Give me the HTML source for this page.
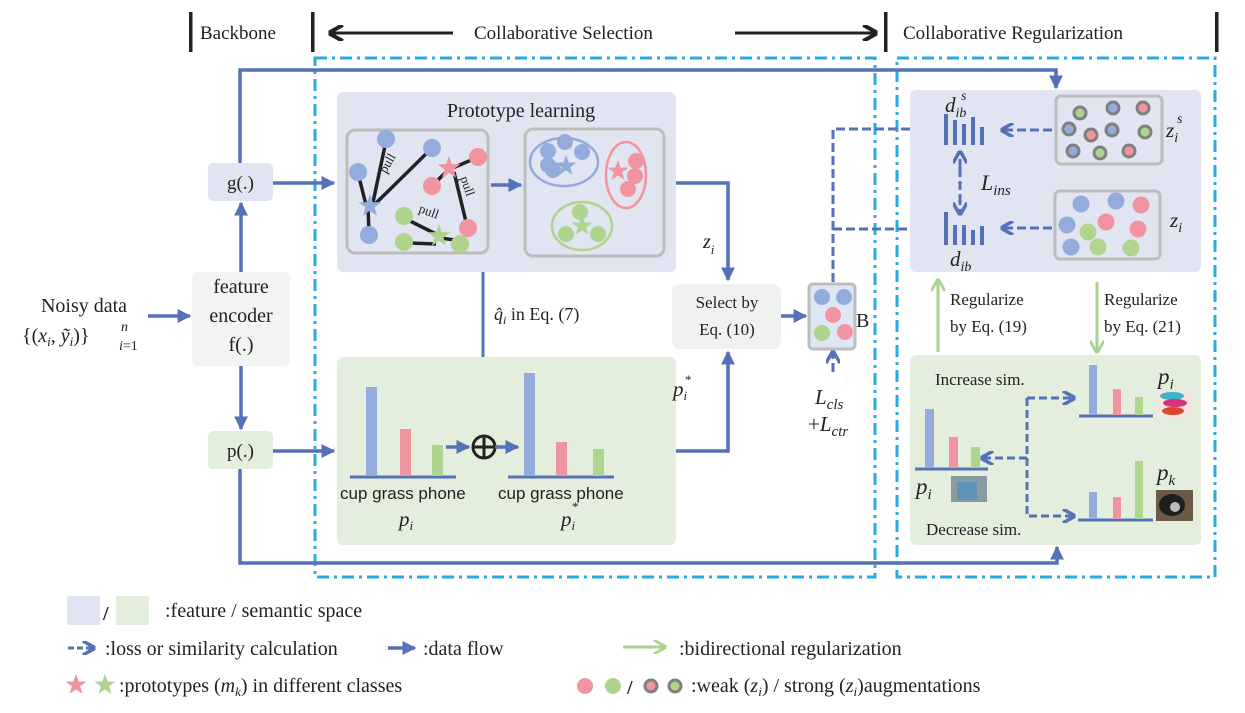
<!DOCTYPE html>
<html><head><meta charset="utf-8"><style>
html,body{margin:0;padding:0;background:#fff}
svg{display:block}
text{font-family:"Liberation Serif",serif;fill:#222}
.s{font-family:"Liberation Sans",sans-serif}
.i{font-style:italic}
</style></head><body>
<svg width="1245" height="713" viewBox="0 0 1245 713" xmlns="http://www.w3.org/2000/svg">
<defs>
<marker id="a" viewBox="0 0 10 10" markerWidth="14" markerHeight="14" refX="9" refY="5" orient="auto" markerUnits="userSpaceOnUse"><path d="M0,0 L10,5 L0,10z" fill="#5572b8"/></marker>
<marker id="ad" viewBox="0 0 10 10" markerWidth="14" markerHeight="14" refX="9" refY="5" orient="auto" markerUnits="userSpaceOnUse"><path d="M1,0 L10,5 L1,10" fill="none" stroke="#5572b8" stroke-width="2.5"/></marker>
<marker id="ag" viewBox="0 0 10 10" markerWidth="14" markerHeight="14" refX="9" refY="5" orient="auto" markerUnits="userSpaceOnUse"><path d="M1,0 L10,5 L1,10" fill="none" stroke="#a9d38e" stroke-width="2"/></marker>
<marker id="ak" viewBox="0 0 10 10" markerWidth="16" markerHeight="16" refX="9" refY="5" orient="auto" markerUnits="userSpaceOnUse"><path d="M1,0 L10,5 L1,10" fill="none" stroke="#222" stroke-width="2.5"/></marker>
<symbol id="star" viewBox="-10 -10 20 20"><path d="M0,-10 L2.4,-3.2 L9.5,-3.1 L3.8,1.2 L5.9,8.1 L0,4 L-5.9,8.1 L-3.8,1.2 L-9.5,-3.1 L-2.4,-3.2Z"/></symbol>
</defs>

<g fill="#222">
<rect x="189" y="12" width="3.5" height="40"/><rect x="311" y="12" width="3.5" height="40"/>
<rect x="884" y="12" width="3.5" height="40"/><rect x="1215" y="12" width="3.5" height="40"/>
</g>
<text x="200" y="39" font-size="19">Backbone</text>
<text x="474" y="39" font-size="19">Collaborative Selection</text>
<text x="903" y="39" font-size="19">Collaborative Regularization</text>
<line x1="453" y1="33" x2="330" y2="33" stroke="#222" stroke-width="3" marker-end="url(#ak)"/>
<line x1="735" y1="33" x2="876" y2="33" stroke="#222" stroke-width="3" marker-end="url(#ak)"/>

<g fill="none" stroke="#29abe2" stroke-width="3" stroke-dasharray="12,5,3,5">
<path d="M315,58 H875 V577 H315 Z"/>
<path d="M897,58 H1215 V577 H897 Z"/>
</g>

<rect x="208" y="163" width="65" height="38" rx="5" fill="#e1e5f2"/>
<text x="240.5" y="189" font-size="19" text-anchor="middle">g(.)</text>
<rect x="192" y="272" width="98" height="94" rx="6" fill="#f2f4f4"/>
<text x="241" y="293" font-size="20" text-anchor="middle">feature</text>
<text x="241" y="322" font-size="20" text-anchor="middle">encoder</text>
<text x="241" y="351" font-size="20" text-anchor="middle">f(.)</text>
<rect x="208" y="431" width="65" height="38" rx="5" fill="#e3eedc"/>
<text x="240.5" y="457" font-size="19" text-anchor="middle">p(.)</text>
<text x="84" y="312" font-size="20" text-anchor="middle">Noisy data</text>
<text x="22" y="342" font-size="20">{(<tspan class="i">x<tspan font-size="13" dy="4">i</tspan></tspan><tspan dy="-4">, </tspan><tspan class="i">ỹ<tspan font-size="13" dy="4">i</tspan></tspan><tspan dy="-4">)}</tspan></text>
<text x="121" y="331" font-size="14" class="i">n</text>
<text x="119" y="350" font-size="14"><tspan class="i">i</tspan>=1</text>

<g stroke="#5572b8" stroke-width="3.5" fill="none">
<line x1="148" y1="316" x2="190" y2="316" marker-end="url(#a)"/>
<line x1="241" y1="272" x2="241" y2="203" marker-end="url(#a)"/>
<line x1="241" y1="366" x2="241" y2="429" marker-end="url(#a)"/>
<line x1="273" y1="183" x2="334" y2="183" marker-end="url(#a)"/>
<line x1="273" y1="451" x2="334" y2="451" marker-end="url(#a)"/>
<path d="M240,163 V70 H1056 V88" marker-end="url(#a)"/>
<path d="M240,469 V563 H1057 V547" marker-end="url(#a)"/>
</g>

<rect x="337" y="92" width="339" height="180" rx="6" fill="#e1e5f2"/>
<text x="521" y="117" font-size="20" text-anchor="middle">Prototype learning</text>
<rect x="347" y="130" width="141" height="123" rx="8" fill="none" stroke="#bdbdbd" stroke-width="3"/>
<rect x="525" y="129" width="139" height="127" rx="8" fill="none" stroke="#bdbdbd" stroke-width="3"/>
<g stroke="#222" stroke-width="3.5">
<line x1="386" y1="141" x2="372" y2="207"/><line x1="432" y1="148" x2="372" y2="207"/>
<line x1="358" y1="173" x2="366" y2="205"/><line x1="368" y1="207" x2="369" y2="233"/>
<line x1="448" y1="170" x2="476" y2="158"/><line x1="446" y1="172" x2="432" y2="186"/>
<line x1="454" y1="172" x2="467" y2="226"/>
<line x1="410" y1="221" x2="440" y2="236"/><line x1="410" y1="243" x2="436" y2="244"/><line x1="440" y1="238" x2="455" y2="240"/>
</g>
<g fill="#94acdb"><circle cx="386" cy="139" r="9"/><circle cx="432" cy="148" r="9"/><circle cx="358" cy="172" r="9"/><circle cx="369" cy="235" r="9"/></g>
<g fill="#f0959f"><circle cx="478" cy="157" r="9"/><circle cx="432" cy="186" r="9"/><circle cx="468" cy="228" r="9"/></g>
<g fill="#aed48e"><circle cx="404" cy="216" r="9"/><circle cx="404" cy="242" r="9"/><circle cx="460" cy="244" r="9"/></g>
<use href="#star" x="358" y="194" width="24" height="24" fill="#94acdb"/>
<use href="#star" x="437" y="156" width="24" height="24" fill="#f0959f"/>
<use href="#star" x="427" y="224" width="24" height="24" fill="#aed48e"/>
<text x="0" y="0" font-size="13" transform="translate(386,174) rotate(-60)">pull</text>
<text x="0" y="0" font-size="13" transform="translate(460,178) rotate(70)">pull</text>
<text x="0" y="0" font-size="13" transform="translate(418,212) rotate(20)">pull</text>
<line x1="491" y1="185" x2="521" y2="185" stroke="#5572b8" stroke-width="3.5" marker-end="url(#a)"/>
<ellipse cx="564" cy="162" rx="34" ry="24" fill="none" stroke="#94acdb" stroke-width="2.5"/>
<g fill="#94acdb"><circle cx="548" cy="151" r="8"/><circle cx="565" cy="142" r="8"/><circle cx="582" cy="152" r="8"/><circle cx="548" cy="165" r="8"/><circle cx="553" cy="170" r="8"/></g>
<use href="#star" x="555" y="155" width="22" height="22" fill="#94acdb"/>
<ellipse cx="626" cy="175" rx="20" ry="33" fill="none" stroke="#f0959f" stroke-width="2.5"/>
<g fill="#f0959f"><circle cx="636" cy="161" r="8"/><circle cx="635" cy="176" r="8"/><circle cx="628" cy="189" r="8"/></g>
<use href="#star" x="607" y="160" width="22" height="22" fill="#f0959f"/>
<ellipse cx="582" cy="226" rx="30" ry="24" fill="none" stroke="#aed48e" stroke-width="2.5"/>
<g fill="#aed48e"><circle cx="580" cy="212" r="8"/><circle cx="566" cy="234" r="8"/><circle cx="598" cy="234" r="8"/></g>
<use href="#star" x="571" y="215" width="22" height="22" fill="#aed48e"/>

<path d="M676,183 H728 V280" fill="none" stroke="#5572b8" stroke-width="3.5" marker-end="url(#a)"/>
<text x="703" y="248" font-size="20" class="i">z<tspan font-size="13" dy="6">i</tspan></text>
<line x1="483" y1="272" x2="483" y2="433" stroke="#5572b8" stroke-width="3" marker-end="url(#a)"/>
<text x="494" y="320" font-size="18"><tspan class="i">q̂<tspan font-size="12" dy="4">i</tspan></tspan><tspan dy="-4"> in Eq. (7)</tspan></text>

<rect x="672" y="284" width="109" height="65" rx="8" fill="#f0f2f2"/>
<text x="727" y="308" font-size="17" text-anchor="middle">Select by</text>
<text x="727" y="335" font-size="17" text-anchor="middle">Eq. (10)</text>
<line x1="781" y1="316" x2="806" y2="316" stroke="#5572b8" stroke-width="3.5" marker-end="url(#a)"/>
<rect x="809" y="284" width="46" height="65" rx="4" fill="#dde6f3" stroke="#bdbdbd" stroke-width="3"/>
<g><circle cx="822" cy="297" r="8" fill="#94acdb"/><circle cx="844" cy="297" r="8" fill="#94acdb"/><circle cx="833" cy="315" r="8" fill="#f0959f"/><circle cx="822" cy="333" r="8" fill="#aed48e"/><circle cx="845" cy="332" r="8" fill="#f0959f"/></g>
<text x="856" y="327" font-size="20">B</text>
<g stroke="#5572b8" stroke-width="3" fill="none" stroke-dasharray="9,4">
<path d="M833,282 V129 H942" marker-end="url(#ad)"/>
<path d="M833,229 H942" marker-end="url(#ad)"/>
<line x1="833" y1="372" x2="833" y2="352" marker-end="url(#ad)"/>
</g>
<text x="815" y="404" font-size="21" class="i">L<tspan font-size="15" dy="5">cls</tspan></text>
<text x="808" y="431" font-size="21">+<tspan class="i">L<tspan font-size="15" dy="5">ctr</tspan></tspan></text>

<rect x="337" y="357" width="339" height="188" rx="6" fill="#e3eedc"/>
<line x1="350" y1="477" x2="456" y2="477" stroke="#5572b8" stroke-width="3"/>
<rect x="366" y="387" width="11" height="89" fill="#94acdb"/><rect x="400" y="429" width="11" height="47" fill="#f0959f"/><rect x="432" y="445" width="11" height="31" fill="#aed48e"/>
<line x1="508" y1="477" x2="614" y2="477" stroke="#5572b8" stroke-width="3"/>
<rect x="524" y="373" width="11" height="103" fill="#94acdb"/><rect x="556" y="442" width="11" height="34" fill="#f0959f"/><rect x="593" y="449" width="11" height="27" fill="#aed48e"/>
<text x="340" y="499" font-size="17" class="s">cup  grass phone</text>
<text x="498" y="499" font-size="17" class="s">cup  grass phone</text>
<text x="399" y="526" font-size="21" class="i">p<tspan font-size="13" dy="4">i</tspan></text>
<text x="561" y="526" font-size="21" class="i">p<tspan font-size="13" dy="4">i</tspan></text>
<text x="572" y="511" font-size="13">*</text>
<line x1="446" y1="447" x2="469" y2="447" stroke="#5572b8" stroke-width="3.5" marker-end="url(#a)"/>
<circle cx="484" cy="447" r="11" fill="none" stroke="#222" stroke-width="3"/>
<line x1="473" y1="447" x2="495" y2="447" stroke="#222" stroke-width="3"/><line x1="484" y1="436" x2="484" y2="458" stroke="#222" stroke-width="3"/>
<line x1="495" y1="447" x2="518" y2="447" stroke="#5572b8" stroke-width="3.5" marker-end="url(#a)"/>
<path d="M676,451 H728 V352" fill="none" stroke="#5572b8" stroke-width="3.5" marker-end="url(#a)"/>
<text x="673" y="396" font-size="21" class="i">p<tspan font-size="13" dy="4">i</tspan></text>
<text x="685" y="384" font-size="13">*</text>

<rect x="910" y="90" width="291" height="182" rx="6" fill="#e1e5f2"/>
<rect x="1056" y="96" width="106" height="68" rx="5" fill="none" stroke="#bdbdbd" stroke-width="3"/>
<rect x="1055" y="191" width="105" height="68" rx="5" fill="none" stroke="#bdbdbd" stroke-width="3"/>
<g stroke="#808080" stroke-width="3">
<circle cx="1080" cy="113" r="6" fill="#aed48e"/><circle cx="1113" cy="108" r="6" fill="#94acdb"/><circle cx="1143" cy="108" r="6" fill="#f0959f"/>
<circle cx="1069" cy="129" r="6" fill="#94acdb"/><circle cx="1091" cy="135" r="6" fill="#f0959f"/><circle cx="1112" cy="130" r="6" fill="#94acdb"/><circle cx="1145" cy="132" r="6" fill="#aed48e"/>
<circle cx="1073" cy="151" r="6" fill="#94acdb"/><circle cx="1100" cy="153" r="6" fill="#aed48e"/><circle cx="1129" cy="151" r="6" fill="#f0959f"/>
</g>
<g><circle cx="1081" cy="204" r="8.5" fill="#94acdb"/><circle cx="1116" cy="201" r="8.5" fill="#94acdb"/><circle cx="1141" cy="205" r="8.5" fill="#f0959f"/>
<circle cx="1067" cy="225" r="8.5" fill="#94acdb"/><circle cx="1106" cy="222" r="8.5" fill="#f0959f"/><circle cx="1088" cy="232" r="8.5" fill="#aed48e"/><circle cx="1138" cy="229" r="8.5" fill="#f0959f"/>
<circle cx="1071" cy="247" r="8.5" fill="#94acdb"/><circle cx="1098" cy="247" r="8.5" fill="#aed48e"/><circle cx="1131" cy="248" r="8.5" fill="#aed48e"/></g>
<g fill="#5572b8">
<rect x="944" y="114" width="4" height="31"/><rect x="953" y="120" width="4" height="25"/><rect x="962" y="124" width="4" height="21"/><rect x="971" y="117" width="4" height="28"/><rect x="980" y="127" width="4" height="18"/>
<rect x="944" y="212" width="4" height="33"/><rect x="953" y="225" width="4" height="20"/><rect x="962" y="225" width="4" height="20"/><rect x="971" y="230" width="4" height="15"/><rect x="980" y="226" width="4" height="19"/>
</g>
<g stroke="#5572b8" stroke-width="3" fill="none" stroke-dasharray="9,4">
<line x1="1052" y1="130" x2="1002" y2="130" marker-end="url(#ad)"/>
<line x1="1052" y1="228" x2="1002" y2="228" marker-end="url(#ad)"/>
<line x1="960" y1="168" x2="960" y2="152" marker-end="url(#ad)"/>
<line x1="960" y1="196" x2="960" y2="214" marker-end="url(#ad)"/>
<line x1="960" y1="168" x2="960" y2="196"/>
</g>
<text x="945" y="112" font-size="21" class="i">d<tspan font-size="14" dy="5">ib</tspan></text>
<text x="961" y="100" font-size="14" class="i">s</text>
<text x="950" y="266" font-size="21" class="i">d<tspan font-size="14" dy="5">ib</tspan></text>
<text x="981" y="190" font-size="22" class="i">L<tspan font-size="15" dy="5">ins</tspan></text>
<text x="1166" y="137" font-size="21" class="i">z<tspan font-size="14" dy="5">i</tspan></text>
<text x="1177" y="123" font-size="14" class="i">s</text>
<text x="1170" y="227" font-size="21" class="i">z<tspan font-size="14" dy="5">i</tspan></text>

<line x1="938" y1="352" x2="938" y2="280" stroke="#a9d38e" stroke-width="3" marker-end="url(#ag)"/>
<line x1="1097" y1="282" x2="1097" y2="352" stroke="#a9d38e" stroke-width="3" marker-end="url(#ag)"/>
<text x="950" y="305" font-size="17">Regularize</text>
<text x="950" y="332" font-size="17">by Eq. (19)</text>
<text x="1104" y="305" font-size="17">Regularize</text>
<text x="1104" y="332" font-size="17">by Eq. (21)</text>

<rect x="910" y="355" width="291" height="190" rx="6" fill="#e3eedc"/>
<text x="935" y="385" font-size="17">Increase sim.</text>
<text x="926" y="535" font-size="17">Decrease sim.</text>
<line x1="1079" y1="416" x2="1153" y2="416" stroke="#5572b8" stroke-width="3"/>
<rect x="1089" y="365" width="8" height="50" fill="#94acdb"/><rect x="1113" y="389" width="8" height="26" fill="#f0959f"/><rect x="1135" y="397" width="8" height="18" fill="#aed48e"/>
<line x1="915" y1="469" x2="988" y2="469" stroke="#5572b8" stroke-width="3"/>
<rect x="925" y="409" width="9" height="59" fill="#94acdb"/><rect x="949" y="437" width="9" height="31" fill="#f0959f"/><rect x="971" y="447" width="9" height="21" fill="#aed48e"/>
<line x1="1078" y1="520" x2="1153" y2="520" stroke="#5572b8" stroke-width="3"/>
<rect x="1089" y="492" width="8" height="27" fill="#94acdb"/><rect x="1113" y="497" width="8" height="22" fill="#f0959f"/><rect x="1135" y="461" width="8" height="58" fill="#aed48e"/>
<text x="1158" y="384" font-size="23" class="i">p<tspan font-size="15" dy="5">j</tspan></text>
<text x="916" y="494" font-size="23" class="i">p<tspan font-size="15" dy="5">i</tspan></text>
<text x="1157" y="480" font-size="23" class="i">p<tspan font-size="15" dy="5">k</tspan></text>
<rect x="1157" y="389" width="36" height="28" fill="#f3e6e0"/>
<ellipse cx="1172" cy="396" rx="12" ry="4" fill="#3cb4c8"/><ellipse cx="1175" cy="403" rx="12" ry="4" fill="#d8327a"/><ellipse cx="1173" cy="411" rx="11" ry="4" fill="#d84830"/>
<rect x="951" y="476" width="36" height="26" fill="#8a9ba0"/><rect x="957" y="482" width="20" height="18" fill="#5f93b8"/>
<rect x="1156" y="490" width="37" height="31" fill="#6b5a48"/><ellipse cx="1172" cy="505" rx="13" ry="11" fill="#1e1e1e"/><circle cx="1175" cy="507" r="5" fill="#bbb"/>
<g stroke="#5572b8" stroke-width="3" fill="none" stroke-dasharray="8,4">
<path d="M1027,398 V516 H1074" marker-end="url(#ad)"/>
<line x1="1027" y1="398" x2="1074" y2="398" marker-end="url(#ad)"/>
<line x1="1027" y1="458" x2="982" y2="458" marker-end="url(#ad)"/>
</g>

<rect x="67" y="596" width="33" height="29" rx="2" fill="#e1e5f2"/>
<text x="103" y="620" font-size="20" font-weight="bold">/</text>
<rect x="116" y="596" width="33" height="29" fill="#e3eedc"/>
<text x="165" y="617" font-size="20">:feature / semantic space</text>
<line x1="68" y1="648" x2="94" y2="648" stroke="#5572b8" stroke-width="3" stroke-dasharray="6,3" marker-end="url(#ad)"/>
<text x="105" y="655" font-size="20">:loss or similarity calculation</text>
<line x1="388" y1="648" x2="415" y2="648" stroke="#5572b8" stroke-width="3.5" marker-end="url(#a)"/>
<text x="423" y="655" font-size="20">:data flow</text>
<line x1="623" y1="647" x2="665" y2="647" stroke="#a9d38e" stroke-width="3" marker-end="url(#ag)"/>
<text x="679" y="655" font-size="20">:bidirectional regularization</text>
<use href="#star" x="65" y="674" width="22" height="22" fill="#f0959f"/>
<use href="#star" x="94" y="674" width="22" height="22" fill="#aed48e"/>
<text x="119" y="692" font-size="20">:prototypes (<tspan class="i">m<tspan font-size="13" dy="4">k</tspan></tspan><tspan dy="-4">) in different classes</tspan></text>
<circle cx="585" cy="686" r="8" fill="#f0959f"/><circle cx="613" cy="686" r="8" fill="#aed48e"/>
<text x="627" y="694" font-size="20" font-weight="bold">/</text>
<circle cx="651" cy="686" r="6" fill="#f0959f" stroke="#808080" stroke-width="3"/>
<circle cx="675" cy="686" r="6" fill="#aed48e" stroke="#808080" stroke-width="3"/>
<text x="691" y="692" font-size="20">:weak (<tspan class="i">z<tspan font-size="13" dy="4">i</tspan></tspan><tspan dy="-4">) / strong (</tspan><tspan class="i">z<tspan font-size="13" dy="4">i</tspan></tspan><tspan dy="-4">)augmentations</tspan></text>
</svg>
</body></html>
